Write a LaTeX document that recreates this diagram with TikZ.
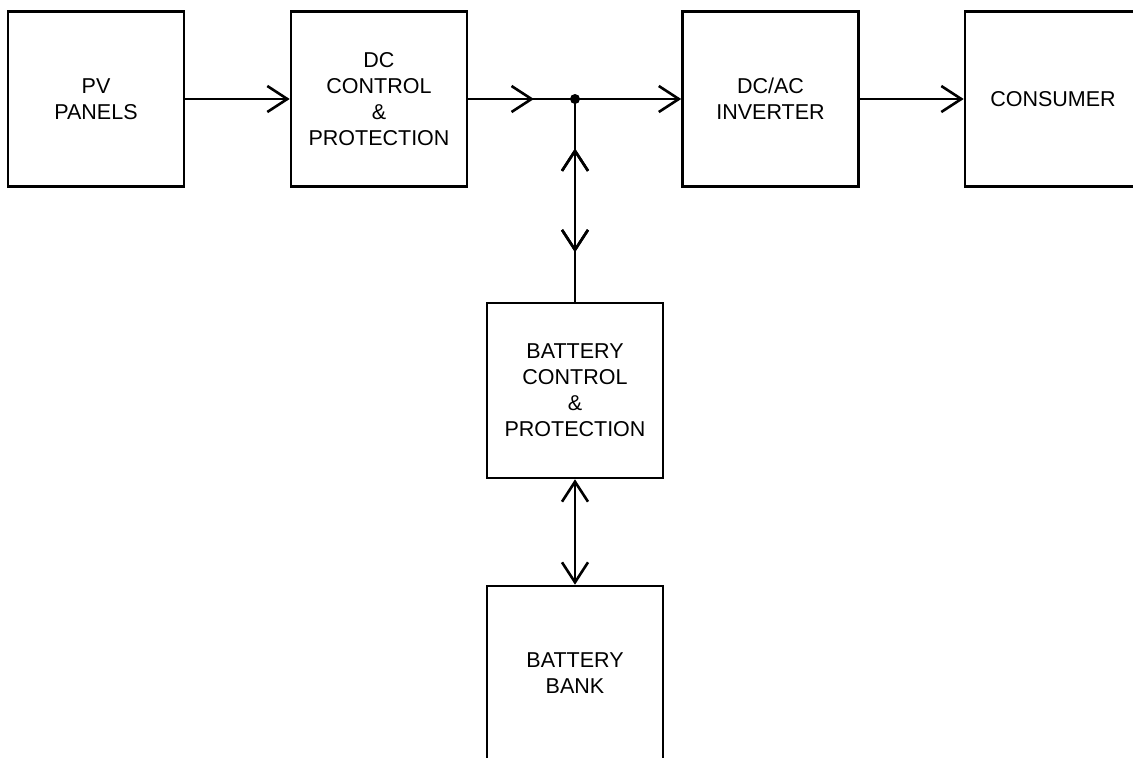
\documentclass[tikz,border=0pt]{standalone}
\usepackage{fontspec}
\setmainfont{Liberation Sans}
\usetikzlibrary{arrows.meta,decorations.markings}
\begin{document}
\begin{tikzpicture}[x=1pt,y=-1pt,
  line width=2.6pt,
  tip/.tip={Straight Barb[length=20pt,width=26pt]},
  block/.style={draw, minimum width=176pt, minimum height=175pt,
    align=center, inner sep=0pt,
    font=\fontsize{21.5}{26}\selectfont},
  flow/.style={-{tip}},
  midtip/.style={postaction={decorate},
    decoration={markings, mark=at position #1 with {\arrow{tip}}}},
  midtipback/.style={postaction={decorate},
    decoration={markings, mark=at position #1 with {\arrowreversed{tip}}}}]
  \clip (0,0) rectangle (1133,758);
  \fill[white] (0,0) rectangle (1133,758);

  % main chain of blocks
  \node[block] (pv)  at (96,99)    {PV\\PANELS};
  \node[block] (dc)  at (379,99)   {DC\\CONTROL\\\&\\PROTECTION};
  \node[block] (inv) at (770.5,99) {DC/AC\\INVERTER};
  \node[block] (con) at (1053,99)  {CONSUMER};

  % storage branch
  \node[block] (bc)  at (575,390.5) {BATTERY\\CONTROL\\\&\\PROTECTION};
  \node[block, minimum height=174pt] (bb) at (575,673) {BATTERY\\BANK};

  % DC bus junction
  \coordinate (j) at (575,99);
  \fill (j) circle (5pt);

  % connectors
  \draw[flow] (pv.east) -- (dc.west);
  \draw[midtip=0.615] (dc.east) -- (j);
  \draw[flow] (j) -- (inv.west);
  \draw[flow] (inv.east) -- (con.west);
  \draw[midtipback=0.244, midtip=0.756] (j) -- (bc.north);
  \draw[{tip}-{tip}] (bc.south) -- (bb.north);
\end{tikzpicture}
\end{document}
